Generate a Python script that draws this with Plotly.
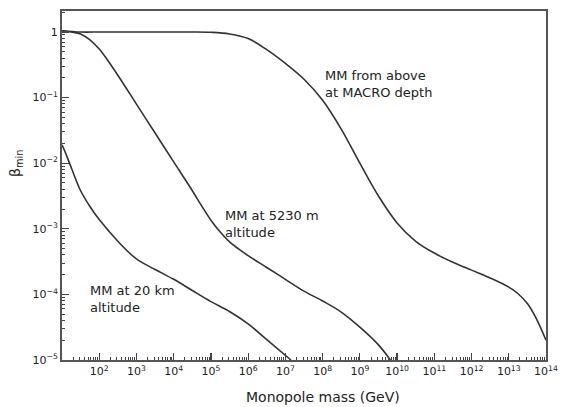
import plotly.graph_objects as go

# Curve data (log10 of mass in GeV, log10 of beta)
macro_logm = [1.0, 1.5, 2.0, 3.0, 4.0, 4.5, 5.0, 5.5, 6.0, 6.5, 7.0, 7.5, 8.0, 8.5, 9.0,
              9.5, 10.0, 10.5, 11.0, 11.5, 12.0, 12.5, 13.0, 13.25, 13.5, 13.75, 14.0]
macro_logb = [0.02, 0.0, 0.0, 0.0, 0.0, 0.0, -0.005, -0.03, -0.10, -0.27, -0.48, -0.72, -1.04, -1.48, -2.0,
              -2.5, -2.91, -3.19, -3.37, -3.51, -3.63, -3.75, -3.89, -3.99, -4.14, -4.38, -4.70]

alt5230_logm = [1.0, 1.25, 1.5, 1.75, 2.0, 2.25, 2.5, 3.0, 3.5, 4.0, 4.5, 4.75, 5.0, 5.25, 5.5,
                5.75, 6.0, 6.5, 7.0, 7.5, 8.0, 8.5, 9.0, 9.5, 9.82]
alt5230_logb = [0.02, 0.0, -0.03, -0.12, -0.26, -0.45, -0.66, -1.1, -1.54, -1.98, -2.42, -2.65, -2.87, -3.05, -3.2,
                -3.31, -3.41, -3.59, -3.77, -3.95, -4.1, -4.27, -4.5, -4.77, -5.0]

alt20_logm = [1.0, 1.1, 1.25, 1.5, 1.75, 2.0, 2.5, 3.0, 3.5, 4.0, 4.5, 5.0, 5.5, 6.0, 6.5, 7.15]
alt20_logb = [-1.72, -1.85, -2.07, -2.42, -2.66, -2.86, -3.19, -3.46, -3.62, -3.77, -3.94, -4.11, -4.26, -4.45, -4.69, -5.0]

x_exponents = list(range(2, 15))
y_exponents = [0, -1, -2, -3, -4, -5]
y_labels = ["1", "10<sup>\u22121</sup>", "10<sup>\u22122</sup>", "10<sup>\u22123</sup>",
            "10<sup>\u22124</sup>", "10<sup>\u22125</sup>"]

labels = ["MM from above<br>at MACRO depth", "MM at 5230 m<br>altitude", "MM at 20 km<br>altitude"]

FONT = "DejaVu Sans"
LINE = "#333333"

fig = go.Figure()
for lm, lb in [(macro_logm, macro_logb), (alt5230_logm, alt5230_logb), (alt20_logm, alt20_logb)]:
    fig.add_trace(go.Scatter(
        x=[10 ** v for v in lm], y=[10 ** v for v in lb], mode="lines",
        line=dict(color=LINE, width=1.6, shape="spline", smoothing=1.0),
        showlegend=False, hoverinfo="skip"))

x_minor = [k * 10 ** n for n in range(1, 14) for k in range(2, 10)]
y_minor = [k * 10 ** n for n in range(-5, 1) for k in range(2, 10) if k * 10 ** n < 2.05]

fig.update_xaxes(
    type="log", range=[1, 14], automargin=False,
    tickvals=[10 ** e for e in x_exponents],
    ticktext=["10<sup>%d</sup>" % e for e in x_exponents],
    ticks="inside", ticklen=7, tickwidth=1.2, tickcolor="#444",
    minor=dict(tickvals=x_minor, ticks="inside", ticklen=3, tickwidth=1, tickcolor="#444"),
    showline=True, linecolor="#555", linewidth=2, mirror=True,
    showgrid=False, zeroline=False,
    tickfont=dict(family=FONT, size=11, color="#222"))
fig.update_yaxes(
    type="log", range=[-5, 0.32], automargin=False,
    tickvals=[10 ** e for e in y_exponents], ticktext=y_labels,
    ticks="inside", ticklen=7, tickwidth=1.2, tickcolor="#444",
    minor=dict(tickvals=y_minor, ticks="inside", ticklen=3, tickwidth=1, tickcolor="#444"),
    showline=True, linecolor="#555", linewidth=2, mirror=True,
    showgrid=False, zeroline=False,
    tickfont=dict(family=FONT, size=11, color="#222"))

label_pos = [(8.02, -0.79), (5.33, -2.92), (1.70, -4.07)]
for txt, (lx, ly) in zip(labels, label_pos):
    fig.add_annotation(x=lx, y=ly, xref="x", yref="y", text=txt, showarrow=False,
                       xanchor="left", yanchor="middle", align="left",
                       font=dict(family=FONT, size=13, color="#222"))

W, H = 561, 407
L, R, T, B = 62, 15, 11, 47

def px_to_paper(px, py):
    return (px - L) / (W - L - R), 1 - (py - T) / (H - T - B)

tx, ty = px_to_paper(323, 397)
fig.add_annotation(x=tx, y=ty, xref="paper", yref="paper", text="Monopole mass (GeV)",
                   showarrow=False, xanchor="center", yanchor="middle",
                   font=dict(family=FONT, size=14, color="#222"))
bx, by = px_to_paper(16, 164)
fig.add_annotation(x=bx, y=by, xref="paper", yref="paper", text="\u03b2<sub>min</sub>",
                   showarrow=False, textangle=-90, xanchor="center", yanchor="middle",
                   font=dict(family=FONT, size=14, color="#222"))

fig.update_layout(width=W, height=H, margin=dict(l=L, r=R, t=T, b=B, autoexpand=False),
                  paper_bgcolor="white", plot_bgcolor="white",
                  font=dict(family=FONT, color="#222"))
fig.write_html("out.html", config={"displayModeBar": False, "staticPlot": True},
               post_script="document.body.style.margin='0';document.body.style.overflow='hidden';")
